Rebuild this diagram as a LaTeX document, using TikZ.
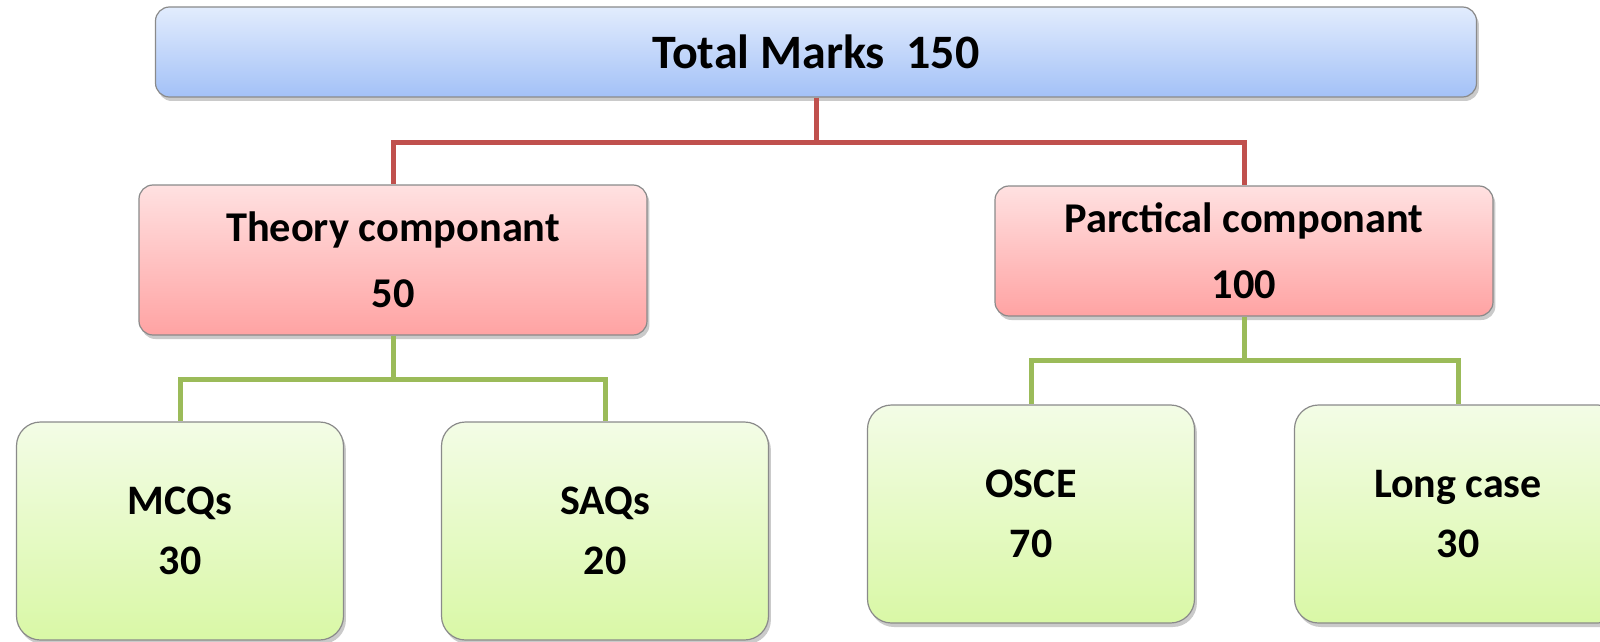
\documentclass[tikz,border=0pt]{standalone}
\usepackage{fontspec}
\setmainfont{Carlito}
\usetikzlibrary{shadows}
\definecolor{bluetop}{HTML}{E2ECFD}
\definecolor{bluebot}{HTML}{A3C1F7}
\definecolor{pinktop}{HTML}{FFE1E1}
\definecolor{pinkbot}{HTML}{FFA3A3}
\definecolor{greentop}{HTML}{F3FCE6}
\definecolor{greenbot}{HTML}{D9F8A6}
\definecolor{boxline}{HTML}{8A8A8A}
\definecolor{redline}{HTML}{C0504D}
\definecolor{greenline}{HTML}{9BBB59}
\tikzset{
  basebox/.style={draw=boxline, line width=0.6pt, align=center, inner sep=0pt,
    drop shadow={shadow xshift=1.2pt, shadow yshift=-2pt, opacity=0.35, fill=black!60},
    font=\bfseries},
  topbox/.style={basebox, rounded corners=7pt, top color=bluetop, bottom color=bluebot,
    minimum width=660.5pt, minimum height=45pt, font=\bfseries\fontsize{24}{28}\selectfont},
  midbox/.style={basebox, rounded corners=7pt, top color=pinktop, bottom color=pinkbot,
    font=\bfseries\fontsize{21.2}{33}\selectfont},
  leafbox/.style={basebox, rounded corners=12pt, top color=greentop, bottom color=greenbot,
    minimum width=163.5pt, minimum height=109pt, font=\bfseries\fontsize{21}{30}\selectfont},
  redconn/.style={draw=redline, line width=2.5pt},
  greenconn/.style={draw=greenline, line width=2.5pt},
}
\begin{document}
\begin{tikzpicture}[x=0.5pt, y=-0.5pt]
\useasboundingbox (0,0) rectangle (1600,642);
\node[topbox] (top) at (816,52) {Total Marks\ \ 150};
\node[midbox, minimum width=254pt, minimum height=75pt] (theory) at (393,260) {Theory componant\\50};
\node[midbox, minimum width=249pt, minimum height=65pt] (prac) at (1244,251) {Parctical componant\\100};
\node[leafbox] (mcq) at (180,531) {MCQs\\30};
\node[leafbox] (saq) at (605,531) {SAQs\\20};
\node[leafbox] (osce) at (1031,514) {OSCE\\70};
\node[leafbox] (long) at (1458,514) {Long case\\30};
\draw[redconn] (top.south) -- (top.south |- 0,142) -| (theory.north);
\draw[redconn] (top.south |- 0,142) -| (prac.north);
\draw[greenconn] (theory.south) -- (theory.south |- 0,379) -| (mcq.north);
\draw[greenconn] (theory.south |- 0,379) -| (saq.north);
\draw[greenconn] (prac.south) -- (prac.south |- 0,360) -| (osce.north);
\draw[greenconn] (prac.south |- 0,360) -| (long.north);
\end{tikzpicture}
\end{document}
